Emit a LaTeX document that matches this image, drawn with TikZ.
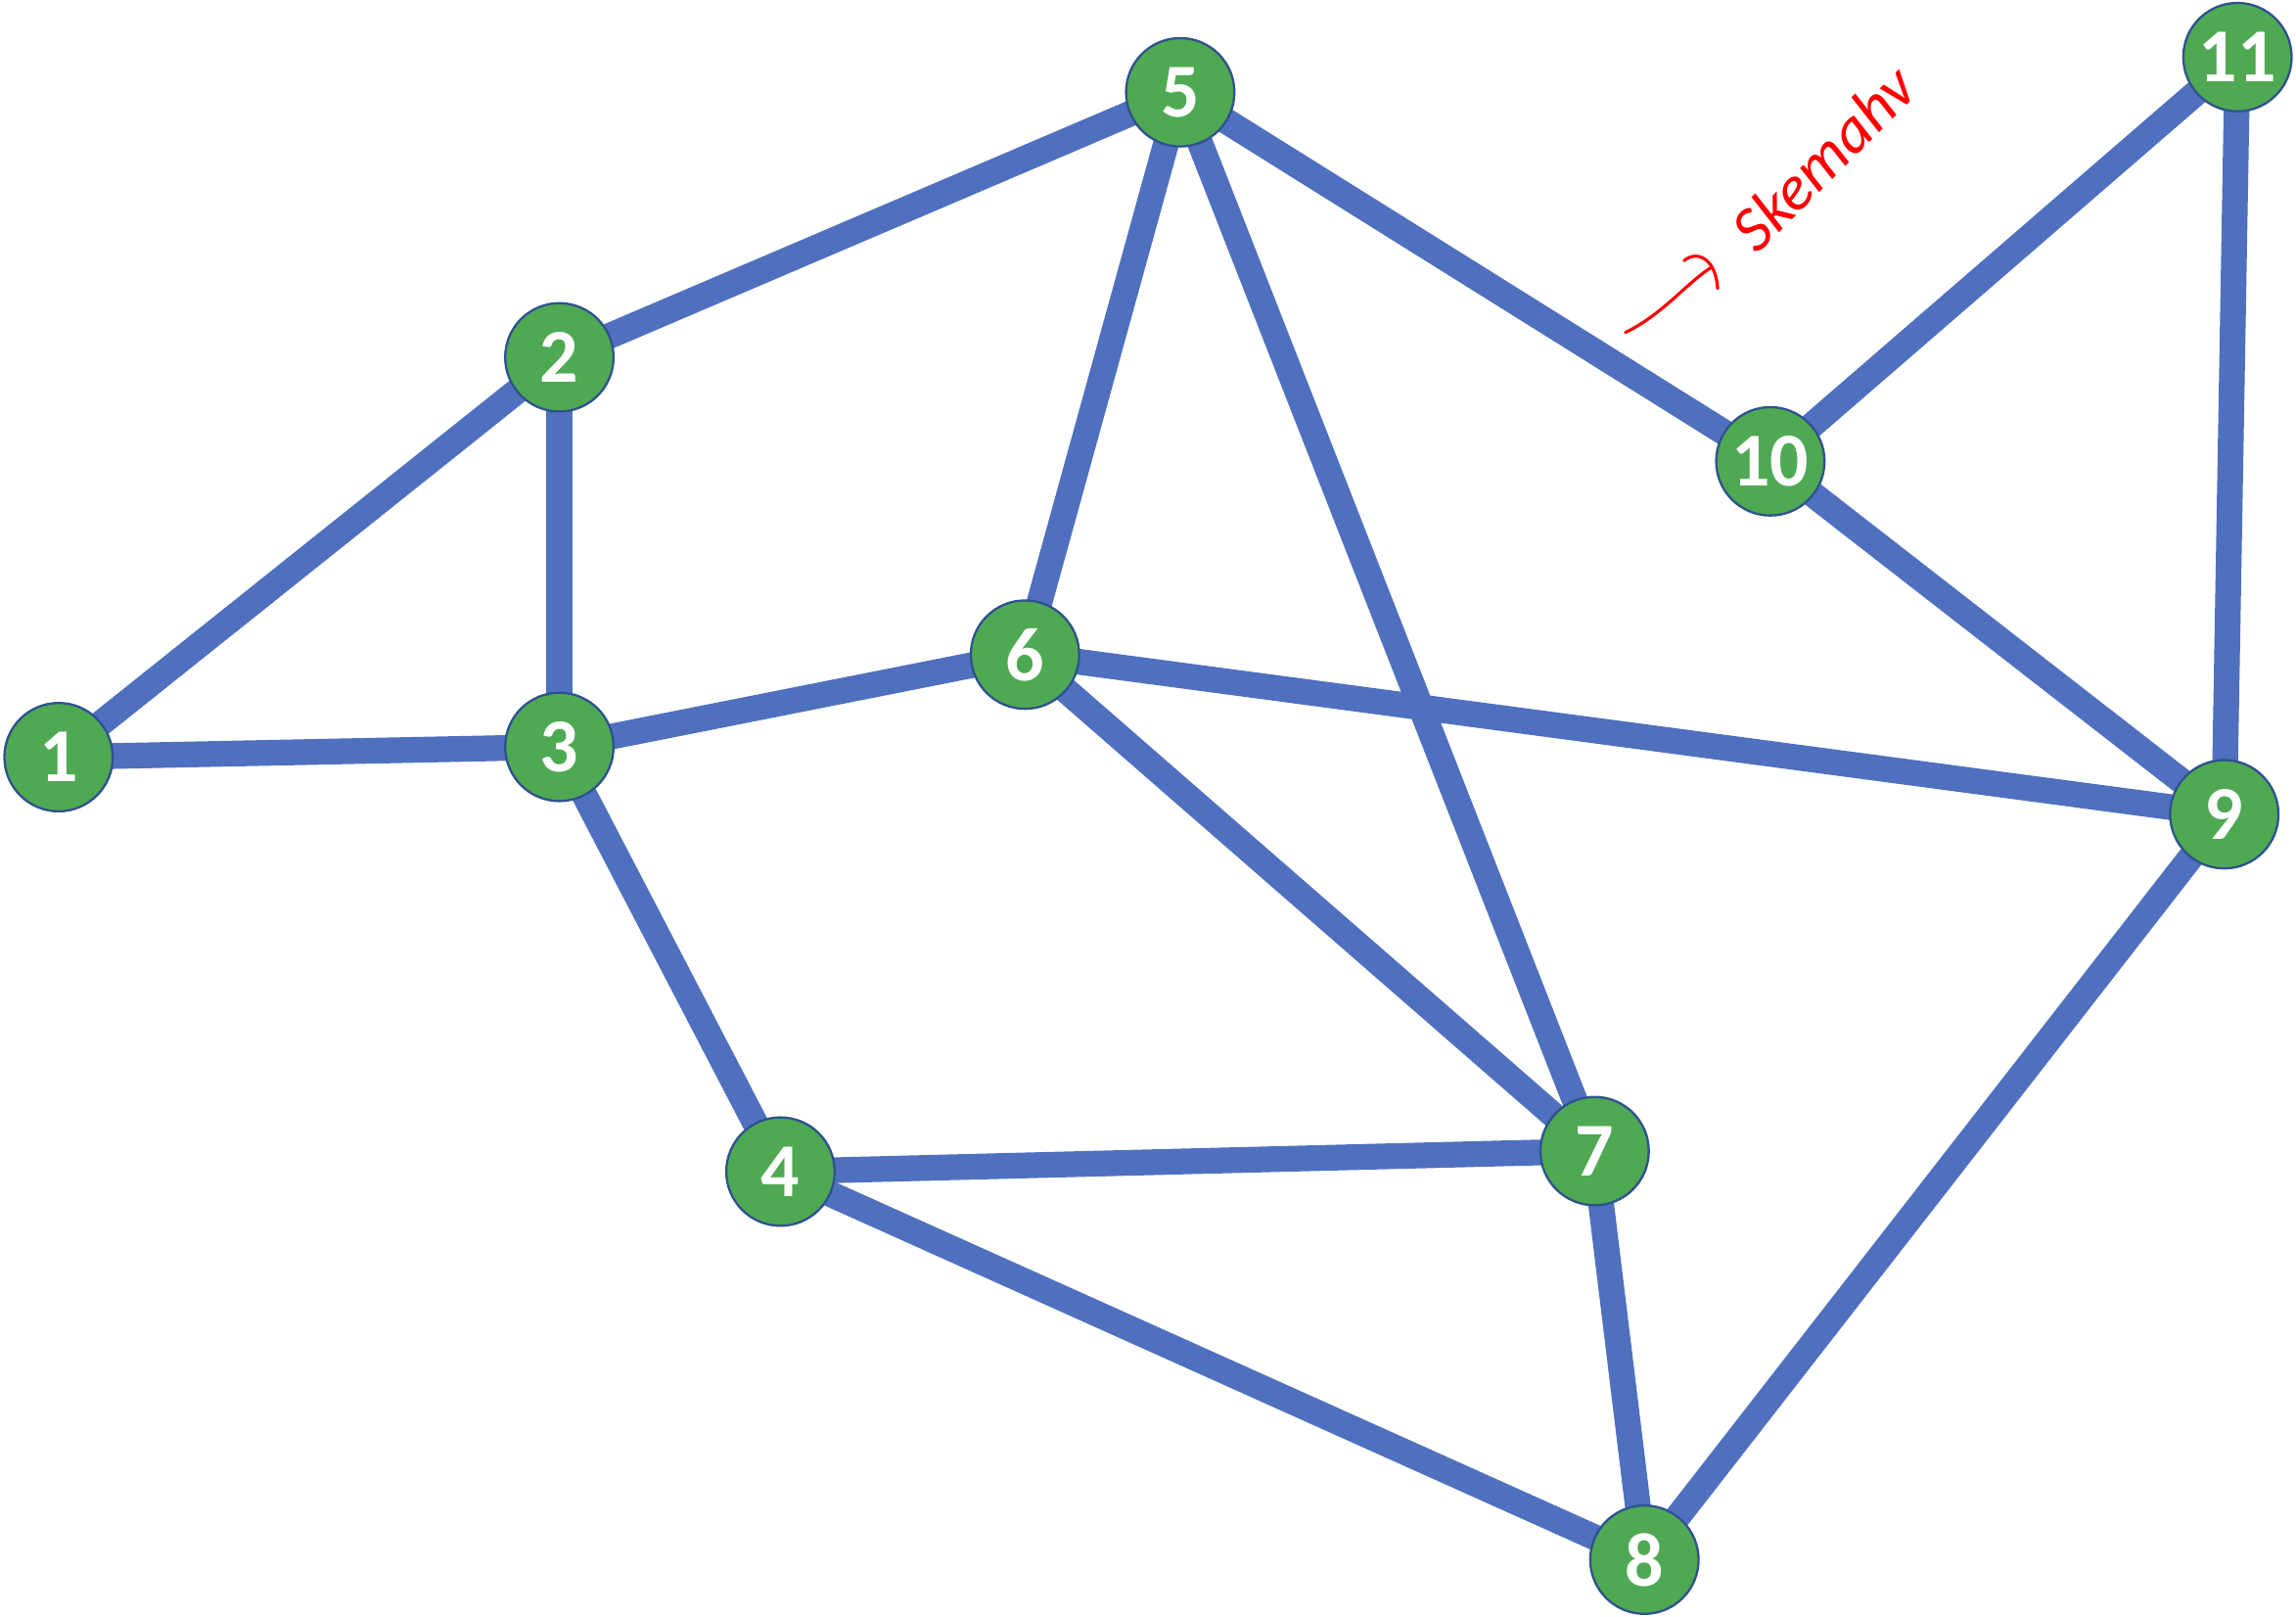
\documentclass[tikz,border=0pt]{standalone}
\usepackage{fontspec}
\setmainfont{Carlito}
\pgfdeclarelayer{bg}
\pgfsetlayers{bg,main}
\begin{document}
\begin{tikzpicture}[x=0.05cm,y=-0.05cm,
  vtx/.style={circle,fill={rgb,255:red,78;green,169;blue,82},draw={rgb,255:red,47;green,82;blue,143},line width=2.2pt,minimum size=3.7cm,inner sep=0pt,text=white,font=\fontsize{74}{74}\selectfont\bfseries},
  edge/.style={draw={rgb,255:red,79;green,112;blue,190},line width=25pt}]
\useasboundingbox (0,0) rectangle (1568,1104);
\node[vtx] (n1) at (40,517) {1};
\node[vtx] (n2) at (382,244) {2};
\node[vtx] (n3) at (382,510) {3};
\node[vtx] (n4) at (533,800) {4};
\node[vtx] (n5) at (806,63) {5};
\node[vtx] (n6) at (700,447) {6};
\node[vtx] (n7) at (1089,786) {7};
\node[vtx] (n8) at (1123,1065) {8};
\node[vtx] (n9) at (1519,556) {9};
\node[vtx] (n10) at (1209,315) {10};
\node[vtx] (n11) at (1528,39) {11};
\begin{pgfonlayer}{bg}
\foreach \a/\b in {1/2,1/3,2/3,2/5,3/6,3/4,4/7,4/8,5/6,5/7,5/10,6/9,6/7,7/8,8/9,9/10,9/11,10/11}
  \draw[edge] (n\a.center) -- (n\b.center);
\end{pgfonlayer}
\coordinate (as) at (1110,227);
\coordinate (ae) at (1168,183);
\draw[red,line width=3pt,line cap=round] (as) .. controls (1135,215) and (1150,195) .. (ae);
\draw[red,line width=3pt,line cap=round] (1150,178) .. controls (1160,170) and (1172,178) .. (1173,197);
\node[red,rotate=45,font=\fontsize{62}{62}\selectfont\itshape] (hw) at (1245,108) {Skemahv};
\end{tikzpicture}
\end{document}
